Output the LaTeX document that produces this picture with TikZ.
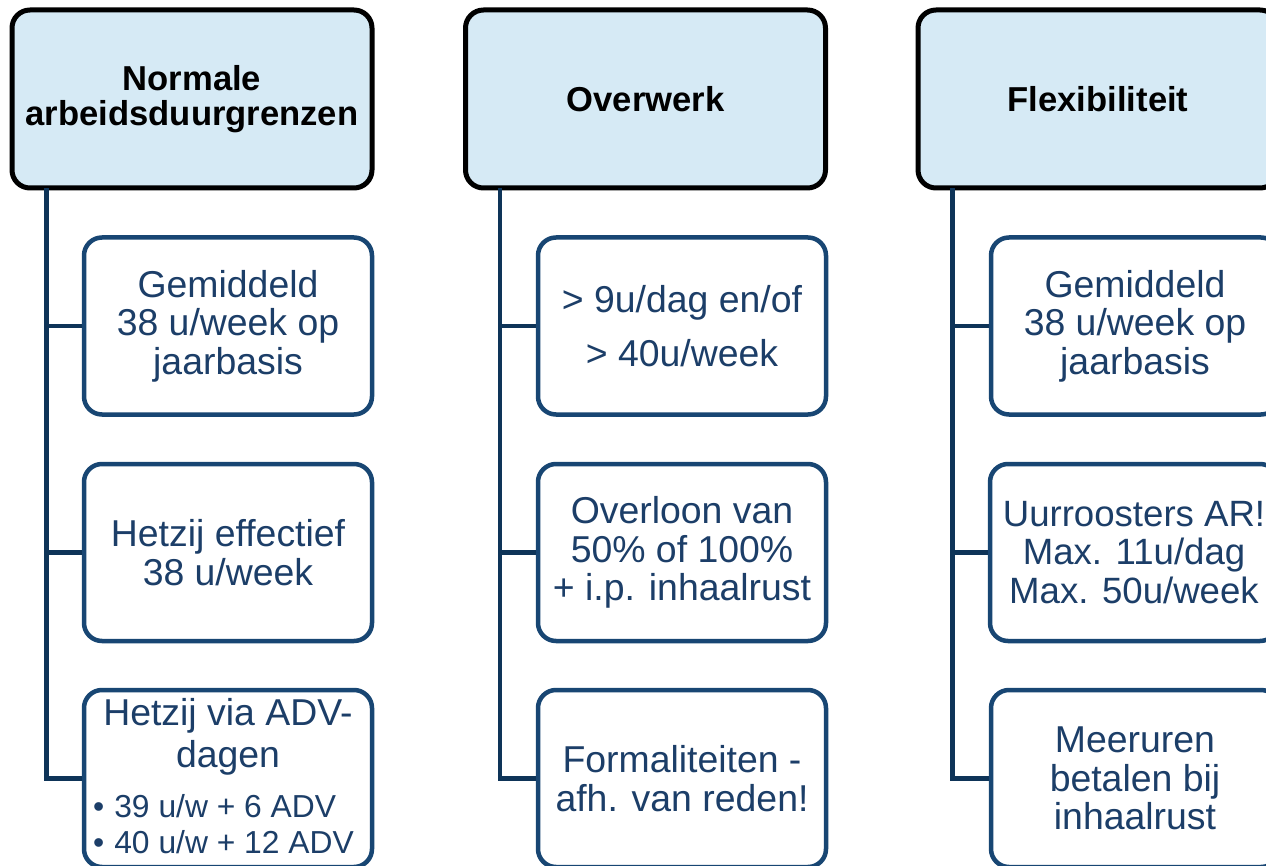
\documentclass[tikz,border=0pt]{standalone}
\usepackage{fontspec}
\setmainfont{Liberation Sans}
\definecolor{hdrfill}{RGB}{214,234,245}
\definecolor{boxblue}{RGB}{24,70,115}
\definecolor{txtblue}{RGB}{28,62,104}
\definecolor{linkblue}{RGB}{14,52,88}
\tikzset{
  hdr/.style={draw=black, line width=5pt, fill=hdrfill, rounded corners=18pt,
    minimum width=360pt, minimum height=178pt, inner sep=0pt, align=center,
    font=\bfseries\fontsize{34.6}{35.5}\selectfont, text=black},
  child/.style={draw=boxblue, line width=4.5pt, fill=white, rounded corners=18pt,
    minimum width=288pt, minimum height=177pt, inner sep=0pt, align=center,
    font=\fontsize{37.4}{38.5}\selectfont, text=txtblue},
  txt/.style={inner sep=0pt, text=txtblue, font=\fontsize{37.4}{38.5}\selectfont},
  bul/.style={inner sep=0pt, text=txtblue, font=\fontsize{31.8}{36}\selectfont},
  link/.style={draw=linkblue, line width=4.5pt}
}
\begin{document}
\begin{tikzpicture}[x=1pt,y=-1pt]
\useasboundingbox (0,0) rectangle (1266,866);
\begin{scope}
\clip (0,0) rectangle (1266,866);
% headers
\node[hdr] (h1) at (192,99) {Normale\\arbeidsduurgrenzen};
\node[hdr] (h2) at (645.5,99) {Overwerk};
\node[hdr] (h3) at (1098,99) {Flexibiliteit};
% column 1
\node[child] (c11) at (228,326) {Gemiddeld\\38 u/week op\\jaarbasis};
\node[child] (c12) at (228,552.5) {Hetzij effectief\\38 u/week};
\node[child] (c13) at (228,778.5) {};
% column 2
\node[child] (c21) at (682,326) {> 9u/dag en/of\\[15pt]> 40u/week};
\node[child] (c22) at (682,552.5) {Overloon van\\50\% of 100\%\\+ i.p. inhaalrust};
\node[child] (c23) at (682,778.5) {Formaliteiten -\\afh. van reden!};
% column 3
\node[child] (c31) at (1135,326) {Gemiddeld\\38 u/week op\\jaarbasis};
\node[child, font=\fontsize{36.6}{38.5}\selectfont] (c32) at (1134,552.5) {Uurroosters AR!\\Max. 11u/dag\\Max. 50u/week};
\node[child] (c33) at (1135,778.5) {Meeruren\\betalen bij\\inhaalrust};
% text of ADV box
\node[txt, anchor=base] (t1) at (228,725) {Hetzij via ADV-};
\node[txt, anchor=base] (t2) at (228,767) {dagen};
\node[bul, anchor=base west] (b1) at (93,817) {•\hspace{10pt}39 u/w + 6 ADV};
\node[bul, anchor=base west] (b2) at (93,853) {•\hspace{10pt}40 u/w + 12 ADV};
% connectors
\foreach \h/\c in {h1/c11,h1/c12,h1/c13,h2/c21,h2/c22,h2/c23,h3/c31,h3/c32,h3/c33}{
  \draw[link] ([xshift=37pt,yshift=2pt]\h.south west) |- (\c.west);
}
\end{scope}
\end{tikzpicture}
\end{document}
